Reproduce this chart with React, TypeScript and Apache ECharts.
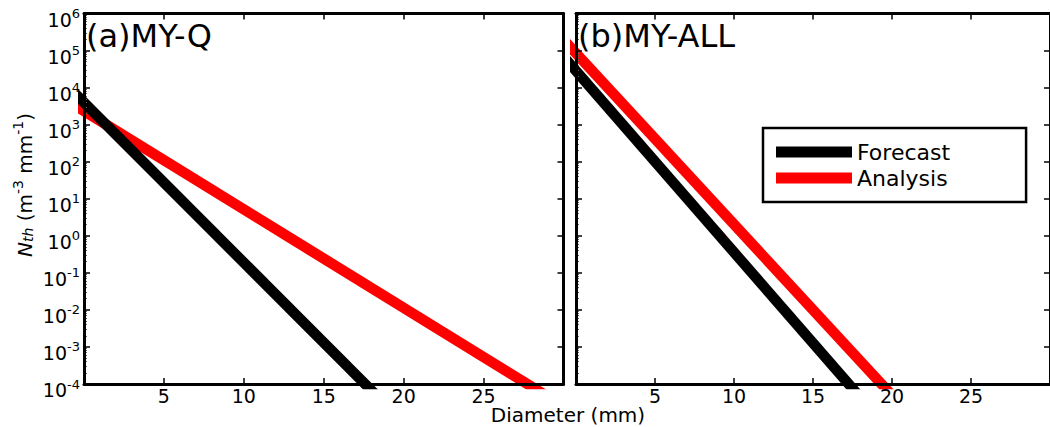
import React, { useEffect, useRef } from 'react';
import * as echarts from 'echarts';

// ---- data ----
const panelLabels = ['(a)MY-Q', '(b)MY-ALL'];
const seriesNames = ['Forecast', 'Analysis'];
const seriesColors = ['#000000', '#ff0000'];
// [diameter (mm), N (m^-3 mm^-1)] – straight lines in log space, read just beyond the frame (clipped)
const forecastA = [[-1, 10700], [19.9, 1e-5]];
const analysisA = [[-1, 4330], [31.5, 1e-5]];
const forecastB = [[-1, 87900], [19.3, 1e-5]];
const analysisB = [[-1, 244000], [21.5, 1e-5]];
const xMin = 0;
const xMax = 30;
const xInterval = 5;
const yMin = 1e-4;
const yMax = 1e6;
const yDecades = [-4, -3, -2, -1, 0, 1, 2, 3, 4, 5];
const xTitle = 'Diameter (mm)';

const FONT = 'DejaVu Sans';

const minorTicks: number[] = [];
yDecades.forEach((e) => {
  for (let k = 2; k <= 9; k++) minorTicks.push(k * Math.pow(10, e));
});

export default function App() {
  const ref = useRef<HTMLDivElement>(null);
  useEffect(() => {
    if (!ref.current) return;
    const chart = echarts.init(ref.current, null, { renderer: 'svg' });

    const grids = [
      { left: 84, top: 13.5, right: 486.5, bottom: 43 },
      { left: 576, top: 13.5, right: -6.5, bottom: 43 },
    ];

    const axisLine = { show: true, onZero: false, lineStyle: { color: '#000', width: 3 } };
    const tick = { show: true, inside: true, length: 6, lineStyle: { color: '#000', width: 1.5 } };

    const xAxis: any[] = [];
    const yAxis: any[] = [];
    grids.forEach((_, i) => {
      const baseX = {
        gridIndex: i, type: 'value', min: xMin, max: xMax, interval: xInterval,
        axisLine, axisTick: tick, splitLine: { show: false }, z: 10,
      };
      xAxis.push({
        ...baseX, position: 'bottom',
        axisLabel: {
          show: true, fontSize: 19, fontFamily: FONT, color: '#000', margin: 2,
          showMinLabel: false, showMaxLabel: false,
        },
      });
      xAxis.push({ ...baseX, position: 'top', axisLabel: { show: false } });

      const baseY = {
        gridIndex: i, type: 'log', logBase: 10, min: yMin, max: yMax, splitNumber: 10,
        axisLine, axisTick: tick, splitLine: { show: false }, z: 10,
      };
      yAxis.push({
        ...baseY, position: 'left',
        axisLabel: {
          show: i === 0, margin: 4, color: '#000', fontFamily: FONT,
          formatter: (v: number) => `{b|10}{s|${Math.round(Math.log10(v))}}`,
          rich: {
            b: { fontSize: 19, fontFamily: FONT, color: '#000', padding: [12, 0, 0, 0] },
            s: { fontSize: 13, fontFamily: FONT, color: '#000', padding: [9, 0, 0, 0], verticalAlign: 'top' },
          },
        },
      });
      yAxis.push({ ...baseY, position: 'right', axisLabel: { show: false } });
      yAxis.push({
        gridIndex: i, type: 'log', logBase: 10, min: yMin, max: yMax, position: 'left',
        axisLine: { show: false },
        axisTick: { show: true, inside: true, length: 3, customValues: minorTicks, lineStyle: { color: '#666', width: 1 } },
        axisLabel: { show: false }, splitLine: { show: false }, z: 9,
      });
    });

    const mk = (name: string, data: number[][], panel: number, z: number) => {
      const color = seriesColors[seriesNames.indexOf(name)];
      return {
        type: 'line', name, data, xAxisIndex: panel * 2, yAxisIndex: panel * 3,
        symbol: 'none', showSymbol: false, clip: true, z,
        lineStyle: { color, width: 10.5, cap: 'butt' },
        itemStyle: { color },
      };
    };

    chart.setOption({
      animation: false,
      backgroundColor: '#fff',
      grid: grids,
      xAxis,
      yAxis,
      legend: {
        data: seriesNames, orient: 'vertical', left: 763, top: 128,
        padding: [11, 76, 11, 13], itemGap: 0, itemWidth: 76, itemHeight: 11, icon: 'rect',
        borderColor: '#000', borderWidth: 2.5, backgroundColor: '#fff', selectedMode: false,
        itemStyle: { borderWidth: 0 },
        textStyle: { fontSize: 22, fontFamily: FONT, color: '#000', lineHeight: 26 },
      },
      series: [
        mk('Analysis', analysisA, 0, 2),
        mk('Forecast', forecastA, 0, 3),
        mk('Analysis', analysisB, 1, 2),
        mk('Forecast', forecastB, 1, 3),
      ],
      graphic: [
        {
          type: 'text', x: 86, y: 36, z: 20,
          style: { text: panelLabels[0], fontSize: 32, fontFamily: FONT, fill: '#000', align: 'left', verticalAlign: 'middle' },
        },
        {
          type: 'text', x: 578, y: 36, z: 20,
          style: { text: panelLabels[1], fontSize: 32, fontFamily: FONT, fill: '#000', align: 'left', verticalAlign: 'middle' },
        },
        {
          type: 'text', x: 568, y: 415, z: 20,
          style: { text: xTitle, fontSize: 20, fontFamily: FONT, fill: '#000', align: 'center', verticalAlign: 'middle' },
        },
        {
          type: 'text', x: 25, y: 185, rotation: Math.PI / 2, z: 20,
          style: {
            text: '{n|N}{sub|th}{r| (m}{sup|-3}{r| mm}{sup|-1}{r|)}',
            align: 'center', verticalAlign: 'middle', fill: '#000', fontFamily: FONT, fontSize: 20,
            rich: {
              n: { fontSize: 20, fontStyle: 'italic', fontFamily: FONT, fill: '#000', lineHeight: 32 },
              sub: { fontSize: 14, fontStyle: 'italic', fontFamily: FONT, fill: '#000', verticalAlign: 'top', padding: [12, 0, 0, 0] },
              r: { fontSize: 20, fontFamily: FONT, fill: '#000', lineHeight: 32 },
              sup: { fontSize: 14, fontFamily: FONT, fill: '#000', verticalAlign: 'top', padding: [2, 0, 0, 0] },
            },
          },
        },
      ],
    });

    return () => chart.dispose();
  }, []);

  return (
    <div
      ref={ref}
      style={{ position: 'absolute', left: 0, top: 0, width: 1050, height: 427, background: '#fff' }}
    />
  );
}
